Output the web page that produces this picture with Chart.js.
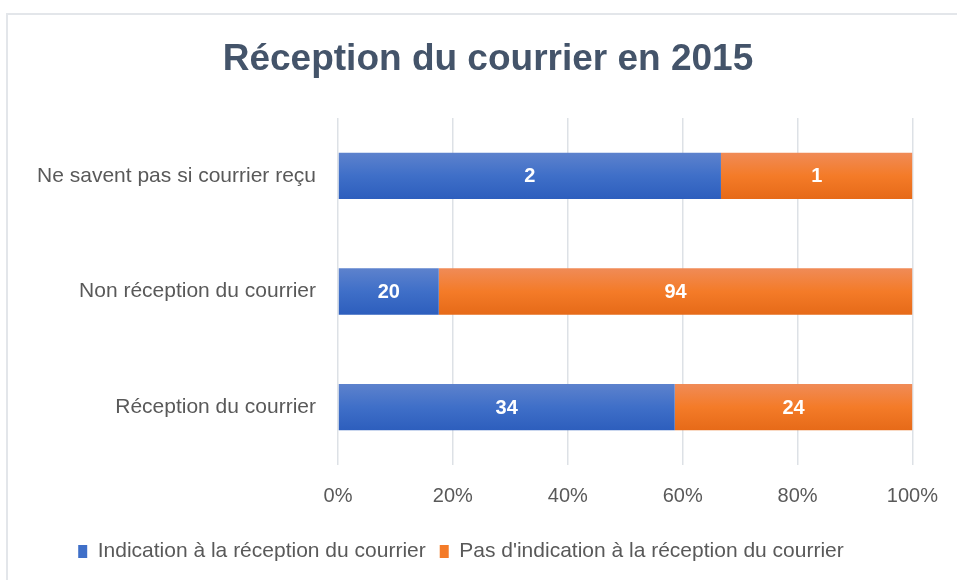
<!DOCTYPE html>
<html lang="fr">
<head>
<meta charset="utf-8">
<script src="https://cdn.jsdelivr.net/npm/chart.js@4/dist/chart.umd.min.js"></script>
<style>
  html, body { margin: 0; padding: 0; background: #fff; overflow: hidden; }
  #cadre { position: absolute; left: 6px; top: 13px; width: 1000px; height: 700px; border: 2px solid #e3e6ea; }
  #zone { position: absolute; left: 0; top: 0; width: 957px; height: 580px; }
</style>
</head>
<body>
<div id="cadre"></div>
<div id="zone"><canvas id="graphique" width="957" height="580"></canvas></div>
<script>
// Données
const categories = ["Ne savent pas si courrier reçu", "Non réception du courrier", "Réception du courrier"];
const indication = [2, 20, 34];
const pasIndication = [1, 94, 24];
const ticksX = ["0%", "20%", "40%", "60%", "80%", "100%"];
const titre = "Réception du courrier en 2015";

const police = "'Liberation Sans', Arial, sans-serif";

// Pourcentages pour l'empilement à 100 %
const totaux = categories.map((c, i) => indication[i] + pasIndication[i]);
const pctIndication = indication.map((v, i) => v / totaux[i] * 100);
const pctPas = pasIndication.map((v, i) => v / totaux[i] * 100);

// Dégradé vertical pour chaque barre
function degrade(haut, bas, milieu) {
  return function (ctx) {
    const chart = ctx.chart;
    const y = chart.scales.y;
    if (!chart.chartArea || !y || ctx.dataIndex === undefined) return milieu;
    const centre = y.getPixelForValue(ctx.dataIndex);
    const pas = Math.abs(y.getPixelForValue(1) - y.getPixelForValue(0)) || 100;
    const demi = pas * 0.4 / 2;
    const g = chart.ctx.createLinearGradient(0, centre - demi, 0, centre + demi);
    g.addColorStop(0, haut);
    g.addColorStop(0.5, milieu);
    g.addColorStop(1, bas);
    return g;
  };
}

// Titre centré sur le cadre du graphique
const titrePlugin = {
  id: "titrePlugin",
  afterDraw(chart) {
    const ctx = chart.ctx;
    ctx.save();
    ctx.fillStyle = "#44546a";
    ctx.font = "bold 37px " + police;
    ctx.textAlign = "center";
    ctx.textBaseline = "middle";
    ctx.fillText(titre, 488, 60);
    ctx.restore();
  }
};

// Étiquettes de valeurs au centre des barres
const etiquettes = {
  id: "etiquettes",
  afterDatasetsDraw(chart) {
    const ctx = chart.ctx;
    ctx.save();
    ctx.fillStyle = "#ffffff";
    ctx.font = "bold 20px " + police;
    ctx.textAlign = "center";
    ctx.textBaseline = "middle";
    const brut = [indication, pasIndication];
    chart.data.datasets.forEach((ds, d) => {
      chart.getDatasetMeta(d).data.forEach((el, i) => {
        const x = (el.x + el.base) / 2;
        ctx.fillText(String(brut[d][i]), x, el.y + 1);
      });
    });
    ctx.restore();
  }
};

new Chart(document.getElementById("graphique"), {
  type: "bar",
  data: {
    labels: categories,
    datasets: [
      {
        label: "Indication à la réception du courrier",
        data: pctIndication,
        backgroundColor: degrade("#5d82cd", "#2d5ebd", "#3f6fc8"),
        borderWidth: 0
      },
      {
        label: "Pas d'indication à la réception du courrier",
        data: pctPas,
        backgroundColor: degrade("#f08b57", "#e66a18", "#f47b28"),
        borderWidth: 0
      }
    ]
  },
  options: {
    indexAxis: "y",
    responsive: false,
    animation: false,
    events: [],
    datasets: { bar: { categoryPercentage: 1, barPercentage: 0.4 } },
    layout: { padding: { left: 8, right: 43, top: 118, bottom: 8 } },
    plugins: {
      title: { display: false },
      legend: {
        position: "bottom",
        labels: {
          color: "#595959",
          font: { family: police, size: 21 },
          boxWidth: 9,
          boxHeight: 13,
          padding: 14,
          generateLabels(chart) {
            const couleurs = ["#3f6fc8", "#f47b28"];
            return chart.data.datasets.map((ds, i) => ({
              text: ds.label,
              fillStyle: couleurs[i],
              strokeStyle: couleurs[i],
              lineWidth: 0,
              datasetIndex: i,
              fontColor: "#595959"
            }));
          }
        }
      },
      tooltip: { enabled: false }
    },
    scales: {
      x: {
        stacked: true,
        min: 0,
        max: 100,
        border: { display: false },
        grid: { color: "#dde1e6", lineWidth: 1.5, drawTicks: false },
        ticks: {
          stepSize: 20,
          color: "#595959",
          font: { family: police, size: 20 },
          padding: 19,
          callback: (v, i) => ticksX[i]
        }
      },
      y: {
        stacked: true,
        border: { display: false },
        grid: { display: false },
        ticks: {
          color: "#595959",
          font: { family: police, size: 21 },
          padding: 14
        },
        afterFit(scale) { scale.width = 330; }
      }
    }
  },
  plugins: [etiquettes, titrePlugin]
});
</script>
</body>
</html>
